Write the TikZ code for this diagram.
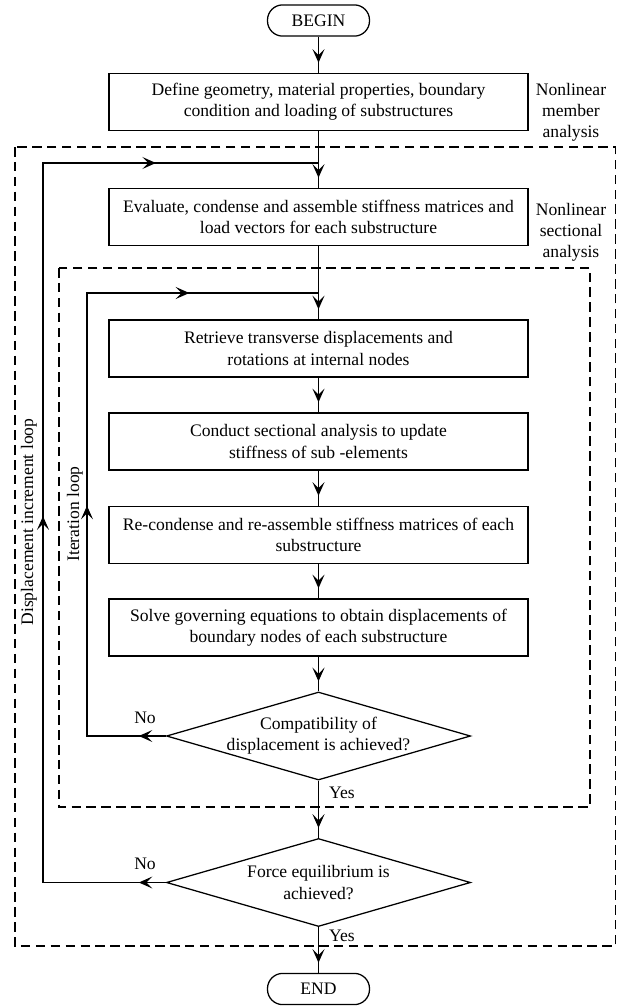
\documentclass[tikz,border=0pt]{standalone}
\usepackage{fontspec}
\setmainfont{Liberation Serif}
\usetikzlibrary{arrows.meta,shapes.geometric,decorations.markings}

\tikzset{
	flowtip/.tip={Stealth[length=3.4mm,width=3mm,inset=1.5mm]},
	terminal/.style={draw, rectangle, rounded corners=0.38cm, minimum width=2.55cm, minimum height=0.78cm, inner sep=1pt},
	block/.style={draw, rectangle, minimum width=10.475cm, minimum height=1.43cm, align=center, inner sep=2pt},
	decision/.style={draw, diamond, aspect=3.44, minimum width=7.6cm, minimum height=2.2cm, inner sep=-3pt, align=center},
	sidelabel/.style={align=center, inner sep=0pt},
	frame/.style={dash pattern=on 6.8pt off 3.8pt, line width=0.8pt},
	flow/.style={postaction={decorate}, decoration={markings, mark=at position -0.25cm with {\arrow{flowtip}}}}
}

\begin{document}
\begin{tikzpicture}[x=0.025cm, y=-0.025cm, line width=0.9pt,
		font=\fontsize{12.5}{15}\selectfont]
	\useasboundingbox (0,0) rectangle (617,1008);

	% main column
	\node[terminal] (begin) at (318.5,20.5) {BEGIN};
	\node[block] (define) at (318.5,102) {Define geometry, material properties, boundary\\condition and loading of substructures};
	\node[block] (evaluate) at (318.5,217) {Evaluate, condense and assemble stiffness matrices and\\load vectors for each substructure};
	\node[block] (retrieve) at (318.5,348.5) {Retrieve transverse displacements and\\rotations at internal nodes};
	\node[block] (conduct) at (318.5,441.5) {Conduct sectional analysis to update\\stiffness of sub -elements};
	\node[block] (recondense) at (318.5,535) {Re-condense and re-assemble stiffness matrices of each\\substructure};
	\node[block] (solve) at (318.5,627.5) {Solve governing equations to obtain displacements of\\boundary nodes of each substructure};
	\node[decision] (compat) at (318.5,736) {Compatibility of\\displacement is achieved?};
	\node[decision] (force) at (318.5,882.5) {Force equilibrium is\\achieved?};
	\node[terminal] (stop) at (318.5,989) {END};

	% side and loop labels
	\node[sidelabel] (memberlbl) at (571,112) {Nonlinear\\member\\analysis};
	\node[sidelabel] (sectionlbl) at (571,232) {Nonlinear\\sectional\\analysis};
	\node[rotate=90] (displbl) at (29,522) {Displacement increment loop};
	\node[rotate=90] (iterlbl) at (75,514) {Iteration loop};
	\node (no1) at (145,718) {No};
	\node (yes1) at (342,793) {Yes};
	\node (no2) at (145,864) {No};
	\node (yes2) at (342,936) {Yes};

	% dashed frames
	\draw[frame] (15,147) rectangle (615.5,946);
	\draw[frame] (59,268) rectangle (590,807);

	% flow
	\draw[flow] (begin) -- (define);
	\draw[flow] (define) -- (evaluate);
	\draw[flow] (evaluate) -- (retrieve);
	\draw[flow] (retrieve) -- (conduct);
	\draw[flow] (conduct) -- (recondense);
	\draw[flow] (recondense) -- (solve);
	\draw[flow] (solve) -- (compat);
	\draw[flow] (compat) -- (force);
	\draw[flow] (force) -- (stop);

	% loops
	\coordinate (dispcorner) at (43,163);
	\coordinate (dispjoin) at (318.5,163);
	\coordinate (itercorner) at (87,293);
	\coordinate (iterjoin) at (318.5,293);
	\draw[postaction={decorate}, decoration={markings,
			mark=at position 0.675cm with {\arrow{flowtip}},
			mark=at position 12.225cm with {\arrow{flowtip}},
			mark=at position 23.875cm with {\arrow{flowtip}}}]
		(force.west) -- (dispcorner |- force.west) -- (dispcorner) -- (dispjoin);
	\draw[postaction={decorate}, decoration={markings,
			mark=at position 0.675cm with {\arrow{flowtip}},
			mark=at position 7.725cm with {\arrow{flowtip}},
			mark=at position 15.6cm with {\arrow{flowtip}}}]
		(compat.west) -- (itercorner |- compat.west) -- (itercorner) -- (iterjoin);
\end{tikzpicture}
\end{document}
